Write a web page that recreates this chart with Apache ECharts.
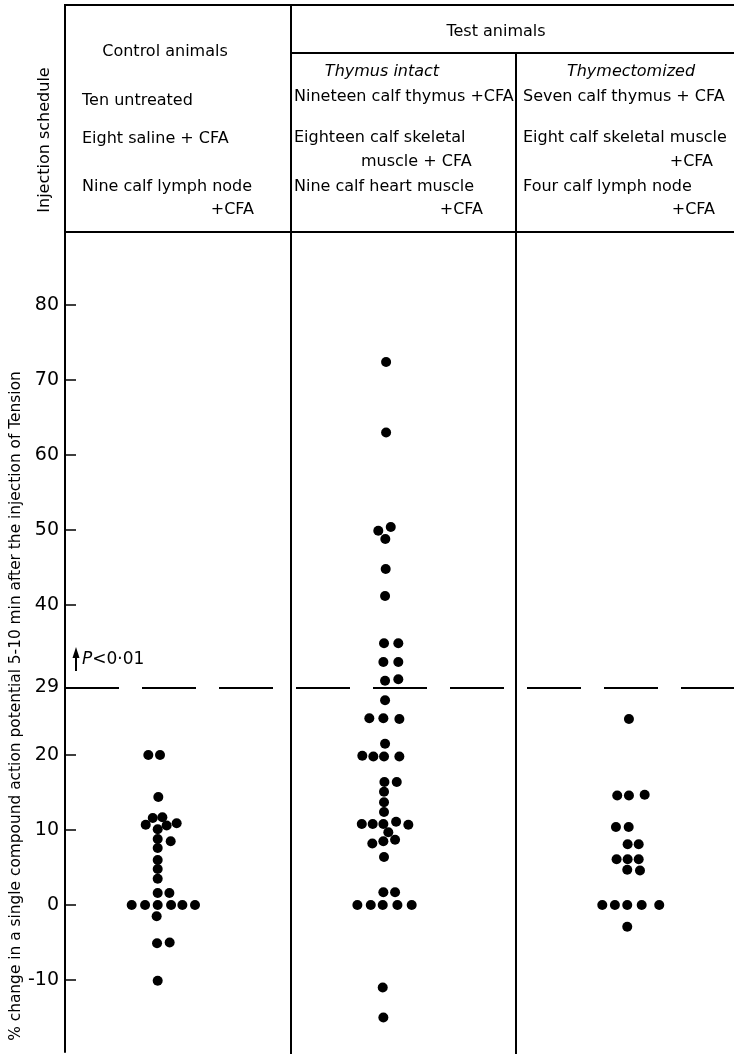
<!DOCTYPE html>
<html>
<head>
<meta charset="utf-8">
<script src="https://cdn.jsdelivr.net/npm/echarts@6/dist/echarts.min.js"></script>
<style>
  html, body { margin: 0; padding: 0; background: #fff; }
  #chart { width: 734px; height: 1054px; }
</style>
</head>
<body>
<div id="chart"></div>
<script>
// group titles and injection schedules (header table)
const groupNames = ['Control animals', 'Thymus intact', 'Thymectomized'];
const testTitle = 'Test animals';
const controlSchedule = ['Ten untreated', 'Eight saline + CFA', 'Nine calf lymph node'];
const intactSchedule = ['Nineteen calf thymus +CFA', 'Eighteen calf skeletal', 'Nine calf heart muscle'];
const thymectSchedule = ['Seven calf thymus + CFA', 'Eight calf skeletal muscle', 'Four calf lymph node'];

// % change, slot = sideways place of the dot in dot widths
const controlValues = [20, 20, 14.4, 11.6, 11.7, 10.7, 10.6, 10.9, 10.1, 8.8, 8.5, 7.6, 6.0, 4.8, 3.5, 1.6, 1.6,
  0, 0, 0, 0, 0, 0, -1.5, -5.1, -5.0, -10.1];
const controlSlots = [-0.72, 0.18, 0.05, -0.38, 0.36, -0.92, 0.69, 1.46, 0, 0, 1.0, 0, 0, 0, 0, 0, 0.9,
  -2.0, -0.97, 0, 1.03, 1.9, 2.87, -0.08, -0.05, 0.92, 0];

const intactValues = [72.4, 63.0, 49.9, 50.4, 48.8, 44.8, 41.2, 34.9, 34.9, 32.4, 32.4, 29.9, 30.1, 27.3,
  24.9, 24.9, 24.8, 21.5, 19.9, 19.8, 19.8, 19.8, 16.4, 16.4, 15.1, 13.7, 12.4,
  10.8, 10.8, 10.8, 11.1, 10.7, 9.7, 8.2, 8.5, 8.7, 6.4, 1.7, 1.7, 0, 0, 0, 0, 0, -11.0, -15.0];
const intactSlots = [0.08, 0.08, -0.52, 0.44, 0.02, 0.05, 0, -0.08, 1.02, -0.13, 1.02, 0, 1.02, 0,
  -1.21, -0.13, 1.1, 0, -1.75, -0.9, -0.08, 1.1, -0.05, 0.9, -0.08, -0.08, -0.08,
  -1.79, -0.95, -0.13, 0.85, 1.79, 0.25, -0.98, -0.13, 0.77, -0.08, -0.13, 0.77, -2.13, -1.1, -0.18, 0.95, 2.05, -0.18, -0.13];

const thymectValues = [24.8, 14.6, 14.6, 14.7, 10.4, 10.4, 8.1, 8.1, 6.1, 6.1, 6.1, 4.7, 4.6, 0, 0, 0, 0, 0, -2.9];
const thymectSlots = [0.1, -0.8, 0.1, 1.31, -0.9, 0.08, 0, 0.85, -0.85, 0, 0.85, -0.03, 0.95, -1.95, -0.98, -0.03, 1.08, 2.43, -0.03];

// y axis
const yTickValues = [-10, 0, 10, 20, 40, 50, 60, 70, 80];
const yLabelValues = [-10, 0, 10, 20, 29, 40, 50, 60, 70, 80];
const threshold = 29;
const yTitle = '% change in a single compound action potential 5-10 min after the injection of Tension';
const scheduleTitle = 'Injection schedule';

// layout (x axis in dot widths of 13 px)
const colCenters = [7.13, 24.62, 43.28];
const FONT = 'DejaVu Sans';

const chart = echarts.init(document.getElementById('chart'));

function toPoints(values, slots, c) {
  return values.map((v, i) => [c + slots[i], v]);
}

function txt(x, y, text, align, extra, size) {
  return Object.assign({
    type: 'text', x: x, y: y,
    style: { text: text, fontFamily: FONT, fontSize: size || 16, fill: '#000', align: align || 'left', verticalAlign: 'middle' }
  }, extra || {});
}
function line(x1, y1, x2, y2) {
  return { type: 'line', shape: { x1: x1, y1: y1, x2: x2, y2: y2 }, style: { stroke: '#000', lineWidth: 2 } };
}

const graphics = [
  // table frame
  line(65, 5, 734, 5),
  line(65, 4, 65, 233),
  line(291, 4, 291, 1054),
  line(516, 53, 516, 1054),
  line(291, 53, 734, 53),
  line(64, 232, 734, 232),
  // header texts
  txt(165, 52, groupNames[0], 'center'),
  txt(82, 101, controlSchedule[0]),
  txt(82, 139, controlSchedule[1]),
  txt(82, 187, controlSchedule[2]),
  txt(254, 210, '+CFA', 'right'),
  txt(496, 32, testTitle, 'center'),
  txt(382, 72, groupNames[1], 'center'),
  txt(631, 72, groupNames[2], 'center'),
  txt(294, 97, intactSchedule[0]),
  txt(294, 138, intactSchedule[1]),
  txt(361, 162, 'muscle + CFA'),
  txt(294, 187, intactSchedule[2]),
  txt(483, 210, '+CFA', 'right'),
  txt(523, 97, thymectSchedule[0]),
  txt(523, 138, thymectSchedule[1]),
  txt(713, 162, '+CFA', 'right'),
  txt(523, 187, thymectSchedule[2]),
  txt(715, 210, '+CFA', 'right'),
  // rotated titles
  txt(45, 140, scheduleTitle, 'center', { rotation: Math.PI / 2 }),
  txt(16, 706, yTitle, 'center', { rotation: Math.PI / 2 }, 15.4),
  // P < 0.01 note
  line(76, 671, 76, 656),
  { type: 'polygon', shape: { points: [[72.5, 658], [79.5, 658], [76, 647]] }, style: { fill: '#000' } },
  {
    type: 'text', x: 82, y: 660,
    style: {
      text: '{p|P}<0·01', fontFamily: FONT, fontSize: 17, fill: '#000', verticalAlign: 'middle',
      rich: { p: { fontFamily: FONT, fontStyle: 'italic', fontSize: 17 } }
    }
  }
];
graphics.forEach(g => {
  if (g.type === 'text' && (g.style.text === groupNames[1] || g.style.text === groupNames[2])) {
    g.style.fontStyle = 'italic';
  }
});

const dotStyle = { color: '#000', opacity: 1 };

chart.setOption({
  animation: false,
  backgroundColor: '#fff',
  grid: { left: 65, right: 0, top: 232, bottom: 2 },
  xAxis: {
    type: 'value', min: 0, max: 669 / 13,
    show: false
  },
  yAxis: {
    type: 'value', min: -19.6, max: 89.73,
    axisLine: { show: true, lineStyle: { color: '#000', width: 2 } },
    axisTick: { show: true, inside: true, length: 11, customValues: yTickValues, lineStyle: { color: '#000', width: 1.5 } },
    axisLabel: {
      customValues: yLabelValues, color: '#000', fontFamily: FONT, fontSize: 19, margin: 6,
      showMinLabel: true, showMaxLabel: true
    },
    splitLine: { show: false }
  },
  graphic: graphics,
  series: [
    {
      name: groupNames[0], type: 'scatter', symbolSize: 10, itemStyle: dotStyle,
      data: toPoints(controlValues, controlSlots, colCenters[0]),
      markLine: {
        silent: true, symbol: 'none', animation: false,
        label: { show: false },
        lineStyle: { color: '#000', width: 2, type: [54, 23], opacity: 1 },
        data: [{ yAxis: threshold }]
      }
    },
    {
      name: groupNames[1], type: 'scatter', symbolSize: 10, itemStyle: dotStyle,
      data: toPoints(intactValues, intactSlots, colCenters[1])
    },
    {
      name: groupNames[2], type: 'scatter', symbolSize: 10, itemStyle: dotStyle,
      data: toPoints(thymectValues, thymectSlots, colCenters[2])
    }
  ]
});
</script>
</body>
</html>
